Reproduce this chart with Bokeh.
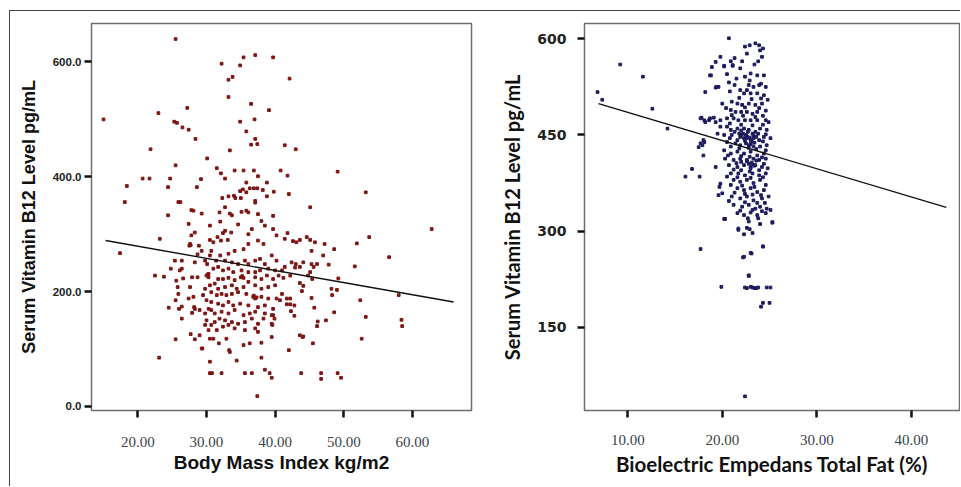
from bokeh.plotting import figure
from bokeh.layouts import row
from bokeh.models import FixedTicker, CustomJSTickFormatter, Range1d
from bokeh.embed import file_html
from bokeh.resources import INLINE

# ---------------- Left panel: BMI vs B12 ----------------
bmi_pts = [
    # upper region
    (25.5,640),(15.0,500),(32.2,597),(34.9,594),(35.4,608),(37.1,612),(39.7,608),(33.2,569),(33.8,574),
    (42.1,571),(33.2,539),(27.2,520),(23.0,511),(36.5,527),(39.1,516),(37.0,500),(34.9,496),(25.3,496),
    (25.7,494),(26.5,486),(27.4,482),(35.8,479),(28.4,466),(37.1,466),(36.5,456),(37.4,457),(41.4,455),
    (43.0,448),(21.85,448),(33.4,446),(30.1,432),(25.5,420),(31.5,415),(32.1,406),(32.7,397),(34.1,411),
    (35.4,411),(36.9,411),(37.5,401),(40.8,411),(41.8,402),(49.1,409),(20.7,397),(21.7,397),(24.7,397),
    (29.2,396),(18.4,384),(24.4,382),(28.6,382),(35.8,390),(38.8,390),(18.1,356),(25.9,356),(26.2,356),
    (32.3,363),(33.2,366),(34.0,367),(34.2,363),(35.0,363),(34.9,375),(35.3,378),(35.8,373),(36.3,380),
    (36.9,380),(37.4,380),(38.2,377),(38.8,366),(37.1,358),(37.1,355),(39.8,374),(42.0,370),(53.2,373),
    (45.1,347),(24.4,333),(27.8,342),(28.1,341),(29.3,336),(31.9,338),(32.7,347),(33.4,336),(33.7,333),
    (35.1,339),(35.8,341),(36.1,338),(37.5,335),(39.7,332),
    # middle / dense region
    (17.4,267),(23.2,292),(22.5,228),(23.8,226),(24.5,172),(23.1,85),(25.4,254),(24.8,240),(25.6,219),
    (26.1,237),(26.4,254),(26.4,240),(26.6,223),(25.8,208),(25.9,196),(25.5,185),(26.4,174),(26.0,170),
    (26.4,153),(25.5,117),(27.6,283),(27.5,280),(27.7,281),(27.4,318),(28.3,303),(27.8,298),(28.9,280),
    (29.3,271),(28.7,265),(28.3,251),(27.9,225),(28.7,225),(27.6,208),(28.1,191),(27.4,188),(28.2,173),
    (27.9,163),(28.3,170),(27.7,126),(28.3,117),(29.3,101),(29.0,168),(29.5,194),(29.8,205),(30.0,228),
    (30.2,230),(30.3,231),(30.3,225),(29.8,254),(30.1,248),(30.5,263),(30.7,271),(30.5,290),(31.0,286),
    (31.6,295),(32.1,289),(32.4,302),(33.6,303),(33.1,290),(34.6,317),(30.5,315),(32.0,322),(32.7,306),
    (36.1,300),(36.6,309),(38.0,323),(38.5,315),(39.7,309),(40.2,298),(36.1,283),(37.5,289),(38.3,283),
    (35.4,274),(34.1,271),(33.2,266),(32.0,263),(31.4,254),(32.7,254),(33.7,251),(34.6,248),(35.6,254),
    (36.1,248),(37.1,254),(37.8,257),(38.5,248),(39.5,263),(40.2,254),(31.0,240),(31.7,243),(32.4,237),
    (33.2,240),(33.9,234),(35.1,237),(36.1,234),(37.1,234),(37.8,237),(39.0,240),(40.0,237),(31.7,222),
    (32.4,222),(33.2,224),(34.1,220),(35.0,225),(35.2,227),(35.4,224),(36.1,217),(37.1,225),(38.0,222),
    (38.8,228),(39.7,222),(40.5,228),(31.2,214),(30.5,211),(31.7,205),(32.7,208),(33.7,211),(34.4,205),
    (35.4,208),(37.1,211),(38.0,205),(39.0,208),(40.0,211),(30.7,199),(31.5,194),(32.2,196),(32.9,194),
    (33.7,196),(34.6,199),(35.8,196),(36.8,191),(36.9,193),(37.1,188),(37.3,190),(38.0,191),(39.0,188),
    (40.2,188),(40.7,185),(30.0,185),(30.7,182),(31.7,179),(32.4,176),(33.2,182),(33.9,176),(34.9,179),
    (36.1,176),(37.5,173),(38.5,176),(39.7,170),(30.3,170),(30.7,168),(29.8,162),(31.2,162),(32.2,165),
    (33.2,162),(34.1,168),(35.4,159),(36.3,162),(37.1,165),(38.5,162),(39.5,159),(30.0,150),(31.2,147),
    (31.9,153),(32.7,150),(33.7,147),(34.6,144),(35.6,147),(36.6,153),(37.5,144),(38.3,153),(39.7,159),
    (39.5,144),(39.6,142),(39.9,153),(29.8,142),(30.3,133),(30.7,142),(31.5,133),(32.4,139),(33.2,142),
    (34.1,136),(35.6,133),(37.1,136),(37.5,130),(30.5,118),(31.0,118),(31.8,110),(32.9,118),(33.3,98),
    (33.4,95),(35.4,107),(36.3,110),(38.0,111),(39.5,121),(29.4,101),(29.0,124),(30.5,78),(34.4,80),
    (38.0,85),(38.5,64),(39.2,58),(39.5,50),(30.5,58),(30.8,58),(32.2,58),(35.6,58),(36.6,58),(37.4,18),
    # right region
    (62.8,309),(53.7,295),(51.9,284),(56.6,260),(51.6,244),(58.0,194),(58.4,151),(58.5,140),(52.4,185),
    (53.2,156),(52.6,118),(41.8,302),(41.4,292),(42.6,288),(43.1,286),(43.6,290),(44.6,295),(45.1,290),
    (45.8,286),(47.2,283),(48.6,274),(45.3,271),(47.0,263),(42.4,251),(43.0,248),(44.1,251),(45.3,248),
    (46.1,248),(47.8,247),(42.9,242),(43.6,243),(45.6,243),(45.1,234),(41.0,237),(41.4,243),(42.2,228),
    (41.2,224),(44.8,228),(45.4,222),(49.2,223),(48.2,205),(49.0,203),(43.6,215),(44.1,210),(43.9,201),
    (48.3,194),(41.0,196),(41.7,188),(42.2,188),(41.7,178),(42.2,178),(42.8,176),(45.3,189),(45.7,172),
    (42.3,166),(42.8,158),(48.6,164),(46.2,148),(47.4,150),(46.1,140),(43.6,124),(44.0,121),(44.1,122),
    (45.5,110),(42.0,98),(43.8,58),(46.7,58),(46.7,48),(49.1,58),(49.6,50),
]
bmi_x = [p[0] for p in bmi_pts]
bmi_b12 = [p[1] for p in bmi_pts]
bmi_fit_x = [15.3, 66.0]
bmi_fit_y = [289, 182]
bmi_xticks = [20, 30, 40, 50, 60]
bmi_yticks = [0, 200, 400, 600]

# ---------------- Right panel: body fat vs B12 ----------------
fat_pts = [
    # outliers
    (6.8,517),(7.3,505),(9.2,560),(11.6,541),(12.6,491),(14.2,460),(16.1,385),(16.8,397),(17.6,385),
    (19.9,213),(22.4,42),(20.7,601),(23.1,265),(22.3,260),(22.8,231),(24.3,276),(25.3,314),
    (17.9,434),(18.1,439),(18.0,418),(17.5,431),(17.8,477),(18.1,473),(18.6,473),(19.1,477),(18.2,517),
    (19.3,564),(18.8,543),(20.2,558),(20.9,565),(21.1,558),(19.3,524),(20.7,532),(19.6,356),(19.7,369),
    (19.3,400),(20.2,319),(21.7,304),
    # dense cluster
    (22.4,588),(22.9,590),(23.5,593),(23.9,590),(24.0,582),(24.2,572),(22.6,577),(19.8,572),(18.9,556),
    (20.2,557),(21.1,559),(21.9,554),(23.0,546),(22.4,541),(23.7,543),(18.7,543),(24.4,543),(19.4,525),
    (19.6,525),(21.9,520),(22.8,528),(23.3,525),(23.9,528),(24.6,525),(22.3,515),(23.0,515),(23.7,515),
    (24.4,512),(20.0,499),(21.0,502),(21.6,499),(22.1,497),(22.8,499),(23.5,497),(24.2,499),(20.9,489),
    (21.4,486),(22.0,486),(22.6,486),(23.2,483),(23.7,486),(20.5,476),(21.2,476),(21.7,473),(22.4,473),
    (23.0,473),(23.7,473),(24.6,473),(24.9,470),(17.7,476),(18.2,470),(18.7,476),(19.3,470),(19.8,473),
    (19.8,463),(20.5,463),(20.9,458),(21.6,460),(22.3,460),(22.8,458),(23.5,455),(24.0,460),(24.7,458),
    (19.5,452),(20.2,450),(21.0,450),(21.9,447),(22.3,445),(22.6,445),(23.0,442),(23.3,445),(23.9,442),
    (24.4,447),(25.1,445),(18.0,442),(17.7,437),(20.5,439),(21.4,437),(21.9,434),(22.5,437),(22.8,434),
    (23.3,432),(24.0,432),(24.7,434),(20.2,426),(20.9,421),(21.6,424),(22.3,421),(23.0,424),(23.7,418),
    (24.4,421),(20.3,413),(21.2,411),(21.9,413),(22.6,411),(23.3,413),(23.9,411),(24.6,413),(20.7,403),
    (21.6,400),(22.3,403),(23.0,400),(23.5,403),(24.2,400),(20.9,390),(21.7,390),(22.4,387),(23.2,390),
    (23.9,387),(24.6,390),(21.2,380),(21.9,377),(22.6,380),(23.3,375),(24.0,380),(19.8,374),(20.0,359),
    (21.6,367),(22.3,364),(23.0,367),(23.7,361),(24.4,364),(21.0,354),(21.9,351),(22.6,354),(23.3,348),
    (24.2,351),(24.9,354),(21.2,341),(22.1,338),(22.8,341),(23.5,335),(24.0,338),(24.7,335),(21.6,328),
    (22.3,325),(23.0,329),(23.7,325),(24.6,328),(25.1,333),
    (21.3,570),(22.1,565),(23.4,560),(24.3,585),(23.8,565),(20.5,545),(21.5,538),(22.9,535),(24.1,530),
    (21.3,528),(20.8,518),(22.6,520),(24.8,505),(21.8,508),(23.1,506),(24.1,507),(20.4,492),(22.4,493),
    (23.9,492),(24.6,488),(21.0,481),(22.2,480),(23.5,478),(24.3,480),(20.8,468),(22.0,466),(23.2,465),
    (24.3,466),(21.3,455),(22.0,457),(23.8,452),(24.6,451),(20.8,445),(21.6,442),(24.3,440),(20.9,432),
    (21.8,429),(23.6,428),(24.6,426),(20.6,418),(22.0,417),(22.9,416),(24.2,415),(21.5,406),(22.0,408),
    (24.4,405),(21.2,396),(22.0,395),(22.9,393),(23.9,395),(24.8,398),(20.5,385),(21.6,384),(23.0,383),
    (24.3,384),(20.9,372),(22.1,371),(23.4,369),(24.6,372),(21.3,360),(22.4,358),(23.2,357),(24.1,356),
    (20.7,347),(22.4,345),(23.7,344),(24.5,344),(21.9,332),(23.2,333),(24.2,331),(22.7,320),(23.8,320),
    # blobs
    (22.0,450),(22.2,452),(22.6,448),(22.9,446),(23.1,440),(23.4,438),(22.8,430),(23.0,436),(22.4,441),
    (23.6,447),(23.2,452),(22.7,455),(21.8,452),(22.5,450),(23.3,449),(22.8,405),(23.1,407),(23.4,402),
    (23.0,398),(22.6,409),(23.6,410),(23.2,404),
    # lower part
    (20.3,319),(22.8,315),(24.0,311),(25.3,313),(21.7,302),(22.3,295),(22.6,305),(22.9,303),(23.2,297),
    (17.7,272),(24.3,276),(23.0,266),(22.2,259),(22.8,230),(22.4,212),(22.6,211),(23.0,213),(23.2,212),
    (23.4,211),(23.6,211),(23.8,212),(24.7,212),(25.1,212),(24.3,188),(25.0,188),(24.1,182),
]
fat_x = [p[0] for p in fat_pts]
fat_b12 = [p[1] for p in fat_pts]
fat_fit_x = [6.9, 43.7]
fat_fit_y = [499, 337]
fat_xticks = [10, 20, 30, 40]
fat_yticks = [150, 300, 450, 600]


def style(p):
    p.xgrid.visible = False
    p.ygrid.visible = False
    p.outline_line_color = "#6e6e6e"
    p.outline_line_width = 1.5
    p.background_fill_color = "white"
    p.border_fill_color = "white"
    for ax in (p.xaxis[0], p.yaxis[0]):
        ax.axis_line_color = None
        ax.major_tick_in = 0
        ax.major_tick_out = 7
        ax.major_tick_line_width = 2.5
        ax.major_tick_line_color = "#111111"
        ax.minor_tick_line_color = None
        ax.axis_label_text_font_style = "bold"
        ax.axis_label_text_color = "#111111"


# Left figure
p1 = figure(width=470, height=475, output_backend="svg", toolbar_location=None,
            x_range=Range1d(13.25, 68.6), y_range=Range1d(-7, 667),
            min_border_left=81, min_border_right=9, min_border_top=12, min_border_bottom=74)
style(p1)
p1.scatter(bmi_x, bmi_b12, marker="square", size=2.7, color="#7e1616")
p1.line(bmi_fit_x, bmi_fit_y, line_color="#111111", line_width=1.4)
p1.xaxis.ticker = FixedTicker(ticks=bmi_xticks)
p1.yaxis.ticker = FixedTicker(ticks=bmi_yticks)
p1.xaxis.formatter = CustomJSTickFormatter(code="return tick.toFixed(2);")
p1.yaxis.formatter = CustomJSTickFormatter(code="return tick.toFixed(1);")
p1.xaxis.axis_label = "Body Mass Index kg/m2"
p1.yaxis.axis_label = "Serum Vitamin B12 Level pg/mL"
p1.xaxis.axis_label_text_font = "Liberation Sans"
p1.yaxis.axis_label_text_font = "Liberation Sans"
p1.xaxis.axis_label_text_font_size = "19px"
p1.yaxis.axis_label_text_font_size = "18px"
p1.xaxis.major_label_text_font = "Liberation Serif"
p1.xaxis.major_label_text_font_size = "15px"
p1.xaxis.major_label_text_color = "#3a3f4a"
p1.xaxis.major_label_standoff = 19
p1.xaxis.axis_label_standoff = 2
p1.yaxis.major_label_text_font = "Liberation Sans"
p1.yaxis.major_label_text_font_style = "bold"
p1.yaxis.major_label_text_font_size = "11.5px"
p1.yaxis.major_label_text_color = "#222222"
p1.yaxis.major_label_standoff = 3
p1.yaxis.axis_label_standoff = 11

# Right figure
p2 = figure(width=480, height=475, output_backend="svg", toolbar_location=None,
            x_range=Range1d(5.42, 45.1), y_range=Range1d(20, 624),
            min_border_left=104, min_border_right=1, min_border_top=12, min_border_bottom=76)
style(p2)
p2.scatter(fat_x, fat_b12, marker="square", size=2.7, color="#1d1d5e")
p2.line(fat_fit_x, fat_fit_y, line_color="#111111", line_width=1.4)
p2.xaxis.ticker = FixedTicker(ticks=fat_xticks)
p2.yaxis.ticker = FixedTicker(ticks=fat_yticks)
p2.xaxis.formatter = CustomJSTickFormatter(code="return tick.toFixed(2);")
p2.yaxis.formatter = CustomJSTickFormatter(code="return tick.toFixed(0);")
p2.xaxis.axis_label = "Bioelectric Empedans Total Fat (%)"
p2.yaxis.axis_label = "Serum Vitamin B12 Level pg/mL"
p2.xaxis.axis_label_text_font = "Lato"
p2.yaxis.axis_label_text_font = "Lato"
p2.xaxis.axis_label_text_font_size = "20.5px"
p2.yaxis.axis_label_text_font_size = "20px"
p2.xaxis.major_label_text_font = "Liberation Serif"
p2.xaxis.major_label_text_font_size = "15px"
p2.xaxis.major_label_text_color = "#3a3f4a"
p2.xaxis.major_label_standoff = 17
p2.xaxis.axis_label_standoff = 4
p2.yaxis.major_label_text_font = "DejaVu Sans"
p2.yaxis.major_label_text_font_style = "bold"
p2.yaxis.major_label_text_font_size = "14px"
p2.yaxis.major_label_text_color = "#222222"
p2.yaxis.major_label_standoff = 11
p2.yaxis.axis_label_standoff = 10

layout = row(p1, p2)
layout.styles = {"border-top": "1px solid #444444", "border-left": "1px solid #444444",
                 "background-color": "white", "margin-left": "9px", "margin-top": "10px"}

open("out.html", "w").write(file_html(layout, INLINE))
